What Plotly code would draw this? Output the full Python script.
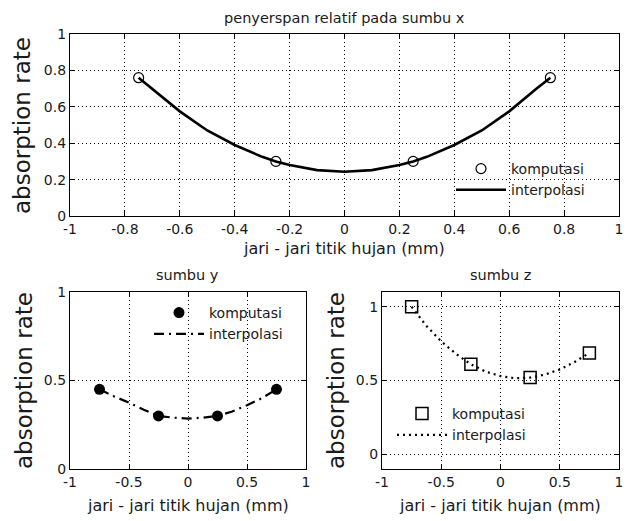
import plotly.graph_objects as go

# ---------------- data ----------------
pts_x = [-0.75, -0.25, 0.25, 0.75]

top_pts_y = [0.76, 0.30, 0.30, 0.76]
top_curve_x = [-0.75, -0.7, -0.6, -0.5, -0.4, -0.3, -0.25, -0.2, -0.1, 0.0,
               0.1, 0.2, 0.25, 0.3, 0.4, 0.5, 0.6, 0.7, 0.75]
top_curve_y = [0.76, 0.70, 0.575, 0.47, 0.39, 0.325, 0.30, 0.28, 0.252, 0.243,
               0.252, 0.28, 0.30, 0.325, 0.39, 0.47, 0.575, 0.70, 0.76]

mid_x = [-0.75, -0.625, -0.5, -0.375, -0.25, -0.125, 0.0, 0.125, 0.25, 0.375, 0.5, 0.625, 0.75]

y_pts_y = [0.45, 0.30, 0.30, 0.45]
y_curve_y = [0.45, 0.41, 0.375, 0.335, 0.30, 0.29, 0.285, 0.29, 0.30, 0.325, 0.36, 0.40, 0.45]

z_pts_y = [1.0, 0.61, 0.52, 0.687]
z_curve_y = [1.0, 0.87, 0.765, 0.68, 0.61, 0.56, 0.53, 0.515, 0.52, 0.54, 0.575, 0.625, 0.687]

top_xticks = [-1, -0.8, -0.6, -0.4, -0.2, 0, 0.2, 0.4, 0.6, 0.8, 1]
top_xlabels = ["-1", "-0.8", "-0.6", "-0.4", "-0.2", "0", "0.2", "0.4", "0.6", "0.8", "1"]
top_yticks = [0, 0.2, 0.4, 0.6, 0.8, 1]
top_ylabels = ["0", "0.2", "0.4", "0.6", "0.8", "1"]
bot_xticks = [-1, -0.5, 0, 0.5, 1]
bot_xlabels = ["-1", "-0.5", "0", "0.5", "1"]
bot_yticks = [0, 0.5, 1]
bot_ylabels = ["0", "0.5", "1"]

title_top = "penyerspan relatif pada sumbu x"
title_y = "sumbu y"
title_z = "sumbu z"
xlab = "jari - jari titik hujan (mm)"
ylab = "absorption rate"
leg_pts = "komputasi"
leg_line = "interpolasi"

# ---------------- figure ----------------
# the page body has an 8px margin, so the figure is drawn from (8, 8)
OFF = 8
W, H = 632 - OFF, 521 - OFF
FONT = "DejaVu Sans, Verdana, sans-serif"
TXT = "#1a1a1a"

def px(x):
    return (x - OFF) / W

def py(y):
    return 1 - (y - OFF) / H

fig = go.Figure()

fig.add_trace(go.Scatter(x=top_curve_x, y=top_curve_y, mode="lines", name=leg_line,
                         line=dict(color="black", width=2.6), xaxis="x", yaxis="y",
                         legend="legend", legendrank=2))
fig.add_trace(go.Scatter(x=pts_x, y=top_pts_y, mode="markers", name=leg_pts,
                         marker=dict(symbol="circle-open", size=10, color="black",
                                     line=dict(width=1.2, color="black")),
                         xaxis="x", yaxis="y", legend="legend", legendrank=1))

fig.add_trace(go.Scatter(x=mid_x, y=y_curve_y, mode="lines", name=leg_line,
                         line=dict(color="black", width=2.2, dash="10px,5px,2px,5px"),
                         xaxis="x2", yaxis="y2", legend="legend2", legendrank=2))
fig.add_trace(go.Scatter(x=pts_x, y=y_pts_y, mode="markers", name=leg_pts,
                         marker=dict(symbol="circle", size=11, color="black"),
                         xaxis="x2", yaxis="y2", legend="legend2", legendrank=1))

fig.add_trace(go.Scatter(x=mid_x, y=z_curve_y, mode="lines", name=leg_line,
                         line=dict(color="black", width=2.2, dash="2px,4px"),
                         xaxis="x3", yaxis="y3", legend="legend3", legendrank=2))
fig.add_trace(go.Scatter(x=pts_x, y=z_pts_y, mode="markers", name=leg_pts,
                         marker=dict(symbol="square-open", size=12, color="black",
                                     line=dict(width=1.5, color="black")),
                         xaxis="x3", yaxis="y3", legend="legend3", legendrank=1))

axis_common = dict(showline=True, linecolor="black", linewidth=1.2, mirror="ticks",
                   ticks="inside", ticklen=5, tickcolor="black",
                   showgrid=True, gridcolor="black", griddash="1px,3px", gridwidth=1,
                   zeroline=False, automargin=False,
                   tickfont=dict(family=FONT, size=14, color=TXT))
xaxis_common = dict(axis_common, ticklabelstandoff=0)

leg_common = dict(xanchor="left", yanchor="top", bgcolor="rgba(0,0,0,0)",
                  borderwidth=0, itemwidth=50, tracegroupgap=0,
                  font=dict(family=FONT, size=14, color=TXT))

fig.update_layout(
    width=W, height=H,
    margin=dict(l=0, r=0, t=0, b=0, pad=0, autoexpand=False),
    paper_bgcolor="white", plot_bgcolor="white",
    showlegend=True,
    xaxis=dict(domain=[px(70), px(619)], range=[-1, 1], anchor="y",
               tickvals=top_xticks, ticktext=top_xlabels, **xaxis_common),
    yaxis=dict(domain=[py(216), py(34)], range=[0, 1], anchor="x",
               tickvals=top_yticks, ticktext=top_ylabels, **axis_common),
    xaxis2=dict(domain=[px(70), px(306)], range=[-1, 1], anchor="y2",
                tickvals=bot_xticks, ticktext=bot_xlabels, **xaxis_common),
    yaxis2=dict(domain=[py(469), py(292)], range=[0, 1], anchor="x2",
                tickvals=bot_yticks, ticktext=bot_ylabels, **axis_common),
    xaxis3=dict(domain=[px(382), px(619)], range=[-1, 1], anchor="y3",
                tickvals=bot_xticks, ticktext=bot_xlabels, **xaxis_common),
    yaxis3=dict(domain=[py(469), py(292)], range=[-0.1, 1.1], anchor="x3",
                tickvals=bot_yticks, ticktext=bot_ylabels, **axis_common),
    legend=dict(x=px(451), y=py(153), **leg_common),
    legend2=dict(x=px(149), y=py(297), **leg_common),
    legend3=dict(x=px(392), y=py(398), **leg_common),
)

ann = []
def text(t, x, y, size, angle=0):
    ann.append(dict(text=t, x=px(x), y=py(y), xref="paper", yref="paper",
                    xanchor="center", yanchor="middle", showarrow=False, textangle=angle,
                    font=dict(family=FONT, size=size, color=TXT)))

text(title_top, 344, 18, 14.5)
text(title_y, 188, 275, 14.5)
text(title_z, 500, 275, 14.5)
text(xlab, 344, 248, 16)
text(xlab, 188, 505, 16)
text(xlab, 500, 505, 16)
text(ylab, 22, 126, 23, -90)
text(ylab, 24, 381, 23, -90)
text(ylab, 336, 381, 23, -90)
fig.update_layout(annotations=ann)

fig.write_html("out.html")
